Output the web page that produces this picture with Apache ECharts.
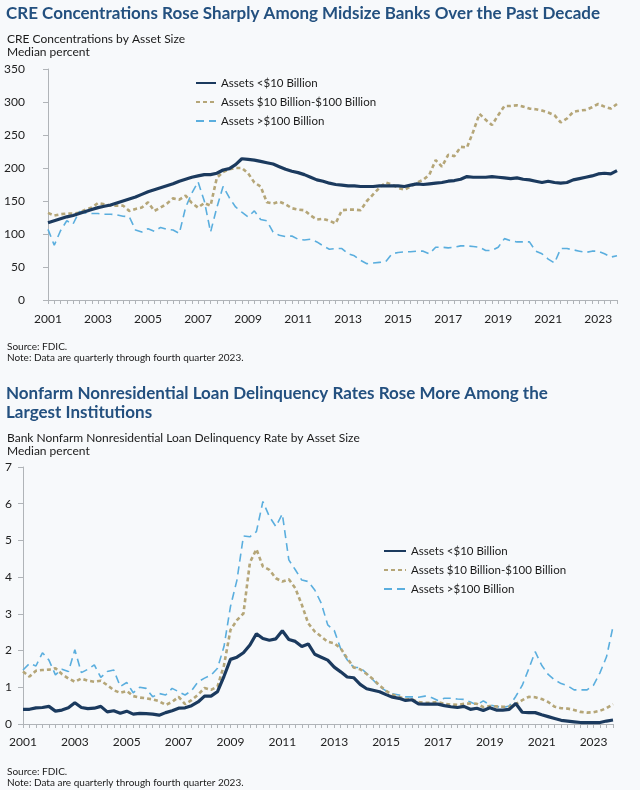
<!DOCTYPE html>
<html>
<head>
<meta charset="utf-8">
<script src="https://cdn.jsdelivr.net/npm/echarts@6/dist/echarts.min.js"></script>
<style>
html,body{margin:0;padding:0;background:#f7f9fb;}
#c{width:640px;height:790px;}
</style>
</head>
<body>
<div id="c"></div>
<script>
const years = [];
for (let y = 2001; y <= 2023; y++) years.push(String(y));
const quarters = ['Q1','Q2','Q3','Q4'];
const categories = [];
years.forEach(y => quarters.forEach(q => categories.push(y + ' ' + q)));

const seriesNames = ['Assets <$10 Billion', 'Assets $10 Billion-$100 Billion', 'Assets >$100 Billion'];

// Chart 1: CRE concentrations (median percent)
const creSmall = [
117,120,123,126, 128,131,134,137, 140,142,144,147, 150,153,156,160,
164,167,170,173, 176,180,183,186, 188,190,190,192, 197,199,205,214,
213,212,210,208, 206,202,198,195, 193,190,186,182, 180,177,175,174,
173,173,172,172, 172,173,173,173, 173,172,174,176, 175,176,177,178,
180,181,183,187, 186,186,186,187, 186,185,184,185, 183,182,180,178,
180,178,177,178, 182,184,186,188, 191,192,191,196];
const creMid = [
132,128,130,131, 131,132,137,140, 147,145,143,143, 143,135,138,140,
148,135,140,146, 154,152,158,147, 140,147,143,185, 194,198,200,200,
192,178,172,148, 146,149,145,139, 137,136,128,122, 123,120,116,136,
137,137,136,150, 160,170,178,175, 170,167,172,178, 182,190,212,202,
220,218,232,231, 255,282,273,265, 280,294,294,295, 293,290,289,287,
284,280,269,275, 285,287,288,292, 297,293,290,297];
const creLarge = [
107,83,105,120, 115,134,132,131, 131,130,130,129, 127,126,106,103,
108,104,110,107, 106,101,140,162, 179,150,103,140, 172,155,141,133,
126,135,122,120, 103,98,96,97, 92,91,92,88, 82,77,78,78,
70,67,60,55, 56,57,58,70, 72,73,73,74, 74,70,80,80,
79,80,82,82, 81,80,75,75, 80,93,90,88, 88,88,74,70,
62,56,78,78, 76,74,72,74, 74,70,65,67];

// Chart 2: nonfarm nonresidential delinquency rate (median percent)
const dlqSmall = [
0.40,0.40,0.44,0.45, 0.48,0.35,0.38,0.44, 0.58,0.45,0.42,0.43, 0.48,0.33,0.36,0.29,
0.35,0.27,0.29,0.28, 0.27,0.24,0.31,0.36, 0.43,0.44,0.50,0.60, 0.76,0.76,0.88,1.30,
1.76,1.82,1.94,2.15, 2.46,2.33,2.28,2.32, 2.54,2.30,2.25,2.11, 2.18,1.90,1.82,1.74,
1.55,1.42,1.28,1.26, 1.08,0.96,0.92,0.88, 0.80,0.73,0.70,0.64, 0.66,0.55,0.54,0.54,
0.54,0.50,0.47,0.45, 0.48,0.40,0.43,0.37, 0.44,0.38,0.38,0.40, 0.56,0.32,0.31,0.31,
0.25,0.20,0.15,0.10, 0.08,0.06,0.04,0.04, 0.04,0.04,0.08,0.11];
const dlqMid = [
1.43,1.29,1.45,1.47, 1.48,1.52,1.36,1.24, 1.15,1.24,1.18,1.15, 1.18,1.06,0.92,0.85,
0.90,0.76,0.72,0.70, 0.67,0.62,0.52,0.60, 0.74,0.54,0.65,0.80, 0.98,0.93,1.02,1.60,
2.56,2.83,3.01,4.40, 4.76,4.29,4.20,3.97, 3.88,3.94,3.70,3.25, 2.74,2.52,2.38,2.24,
2.20,2.06,1.79,1.54, 1.49,1.36,1.22,1.05, 0.90,0.80,0.74,0.68, 0.67,0.60,0.58,0.58,
0.60,0.55,0.53,0.52, 0.55,0.56,0.55,0.46, 0.49,0.48,0.47,0.47, 0.54,0.65,0.74,0.73,
0.68,0.60,0.47,0.43, 0.42,0.38,0.33,0.31, 0.32,0.36,0.43,0.54];
const dlqLarge = [
1.47,1.65,1.58,1.94, 1.74,1.34,1.49,1.43, 2.02,1.40,1.49,1.61, 1.27,1.43,1.47,1.02,
1.13,0.85,1.00,0.97, 0.74,0.83,0.79,0.97, 0.88,0.79,0.91,1.15, 1.25,1.33,1.52,2.11,
3.20,3.92,5.12,5.10, 5.24,6.06,5.65,5.38, 5.72,4.47,4.20,3.92, 3.88,3.65,3.29,2.70,
2.55,2.05,1.75,1.54, 1.54,1.38,1.20,1.02, 0.90,0.82,0.79,0.74, 0.74,0.73,0.76,0.72,
0.64,0.70,0.70,0.68, 0.67,0.60,0.52,0.63, 0.52,0.48,0.45,0.49, 0.75,1.05,1.50,1.97,
1.60,1.35,1.20,1.10, 1.04,0.93,0.93,0.93, 1.06,1.40,1.83,2.65];

const FONT = 'Lato';
const NAVY = '#1b3a5e';
const TAN = '#b5a678';
const BLUE = '#5aaede';
const TITLE_C = '#23507f';
const AX = '#b0b4b8';

const styles = [
  {color: NAVY, width: 3.2, type: 'solid'},
  {color: TAN, width: 2.6, type: [4, 3]},
  {color: BLUE, width: 1.6, type: [8, 5]}
];

function mkSeries(data, idx, gi) {
  return {
    type: 'line', name: seriesNames[idx], data: data,
    xAxisIndex: gi, yAxisIndex: gi, showSymbol: false, symbol: 'none',
    lineStyle: styles[idx], itemStyle: {color: styles[idx].color},
    z: 3 - idx, animation: false
  };
}

function xAxis(gi, margin) {
  return {
    type: 'category', gridIndex: gi, data: categories, boundaryGap: false,
    axisLine: {lineStyle: {color: AX, width: 1}},
    axisTick: {show: true, interval: 0, length: 4, lineStyle: {color: AX}},
    axisLabel: {interval: 7, margin: margin, color: '#222', fontFamily: FONT, fontSize: 12,
      formatter: v => v.slice(0, 4)},
    splitLine: {show: false}
  };
}
function yAxis(gi, max, interval, margin) {
  return {
    type: 'value', gridIndex: gi, min: 0, max: max, interval: interval,
    axisLine: {show: true, lineStyle: {color: AX, width: 1}},
    axisTick: {show: true, length: 5, lineStyle: {color: AX}},
    axisLabel: {margin: margin, color: '#222', fontFamily: FONT, fontSize: 12},
    splitLine: {show: false}
  };
}

const titleStyle = {fontFamily: FONT, fontWeight: 'bold', fontSize: 17, color: TITLE_C, lineHeight: 19};
const subStyle = {fontFamily: FONT, fontWeight: 'normal', fontSize: 12, color: '#1a1a1a', lineHeight: 13};
const noteStyle = {fontFamily: FONT, fontWeight: 'normal', fontSize: 10, color: '#1a1a1a', lineHeight: 11};
const legendText = {fontFamily: FONT, fontSize: 11.5, color: '#1a1a1a'};

const chart = echarts.init(document.getElementById('c'), null, {renderer: 'canvas'});
chart.setOption({
  backgroundColor: '#f7f9fb',
  animation: false,
  title: [
    {text: 'CRE Concentrations Rose Sharply Among Midsize Banks Over the Past Decade', left: 6, top: 4.5, padding: 0, textStyle: titleStyle},
    {text: 'CRE Concentrations by Asset Size\nMedian percent', left: 7, top: 32.5, padding: 0, textStyle: subStyle},
    {text: 'Source: FDIC.\nNote: Data are quarterly through fourth quarter 2023.', left: 7, top: 341.5, padding: 0, textStyle: noteStyle},
    {text: 'Nonfarm Nonresidential Loan Delinquency Rates Rose More Among the\nLargest Institutions', left: 6, top: 384.5, padding: 0, textStyle: titleStyle},
    {text: 'Bank Nonfarm Nonresidential Loan Delinquency Rate by Asset Size\nMedian percent', left: 7, top: 431.5, padding: 0, textStyle: subStyle},
    {text: 'Source: FDIC.\nNote: Data are quarterly through fourth quarter 2023.', left: 7, top: 766.5, padding: 0, textStyle: noteStyle}
  ],
  legend: [
    {orient: 'vertical', left: 195, top: 77, padding: 0, itemWidth: 20, itemHeight: 14, itemGap: 7,
      data: seriesNames, selectedMode: false, itemStyle: {opacity: 0},
      textStyle: legendText},
    {orient: 'vertical', left: 383, top: 545, padding: 0, itemWidth: 22, itemHeight: 14, itemGap: 7,
      data: seriesNames, selectedMode: false, itemStyle: {opacity: 0},
      textStyle: legendText}
  ],
  grid: [
    {left: 48, right: 23, top: 69, height: 231},
    {left: 23, right: 27, top: 467, height: 257}
  ],
  xAxis: [xAxis(0, 13), xAxis(1, 12)],
  yAxis: [yAxis(0, 350, 50, 23), yAxis(1, 7, 1, 11)],
  series: [
    mkSeries(creSmall, 0, 0), mkSeries(creMid, 1, 0), mkSeries(creLarge, 2, 0),
    mkSeries(dlqSmall, 0, 1), mkSeries(dlqMid, 1, 1), mkSeries(dlqLarge, 2, 1)
  ]
});
</script>
</body>
</html>
